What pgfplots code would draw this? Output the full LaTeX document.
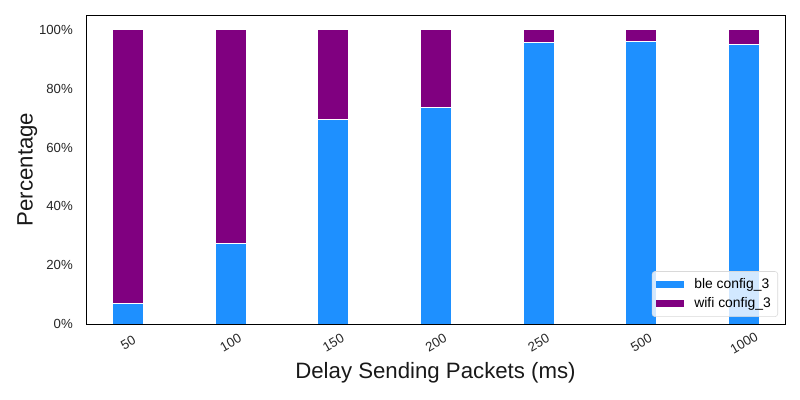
\documentclass[border=0pt]{standalone}
\usepackage{fontspec}
\setmainfont{Liberation Sans}
\usepackage{pgfplots}
\pgfplotsset{compat=1.18}
\definecolor{ble}{HTML}{1E90FF}
\definecolor{wifi}{HTML}{800080}
\begin{document}
\begin{tikzpicture}
\path[use as bounding box] (0pt,0pt) rectangle (576pt,288pt);
\begin{axis}[
  at={(61.92pt,54.72pt)}, anchor=south west,
  scale only axis, width=503.28pt, height=222.48pt,
  ybar stacked, bar width=0.3,
  xmin=-0.41, xmax=6.4, ymin=0, ymax=105.1,
  xtick={0,...,6}, xticklabels={50,100,150,200,250,500,1000},
  ytick={0,20,...,100},
  yticklabel={\pgfmathprintnumber{\tick}\%},
  /pgf/number format/assume math mode=true,
  major tick length=0pt,
  axis line style={black, line width=0.6pt},
  tick label style={font=\fontsize{9.5}{11}\selectfont, color=black!85},
  xticklabel style={yshift=-13.5pt, rotate=30, anchor=center},
  yticklabel style={xshift=-6pt},
  xlabel={Delay Sending Packets (ms)},
  ylabel={Percentage},
  label style={font=\fontsize{16}{19}\selectfont, color=black!90},
  xlabel style={at={(axis description cs:0.5,-0.159)}, anchor=center},
  ylabel style={at={(axis description cs:-0.084,0.5)}, anchor=center, rotate=0},
  legend style={at={(0.99,0.023)}, anchor=south east, draw=black!15, rounded corners=2pt,
    fill=white, fill opacity=0.8, text opacity=1, font=\fontsize{10}{12}\selectfont,
    inner sep=3pt, row sep=1pt, legend cell align=left},
  legend image code/.code={\fill[#1, draw=none, fill opacity=1, sharp corners] (0pt,-2.6pt) rectangle (20pt,2.6pt); \path (25pt,0pt);},
]
\addplot[fill=ble, draw=white, line width=0.7pt] coordinates {(0,7.1) (1,27.5) (2,69.4) (3,73.5) (4,95.9) (5,96.0) (6,94.9)};
\addlegendentry{ble config\_3}
\addplot[fill=wifi, draw=white, line width=0.7pt] coordinates {(0,92.9) (1,72.5) (2,30.6) (3,26.5) (4,4.1) (5,4.0) (6,5.1)};
\addlegendentry{wifi config\_3}
\end{axis}
\end{tikzpicture}
\end{document}
